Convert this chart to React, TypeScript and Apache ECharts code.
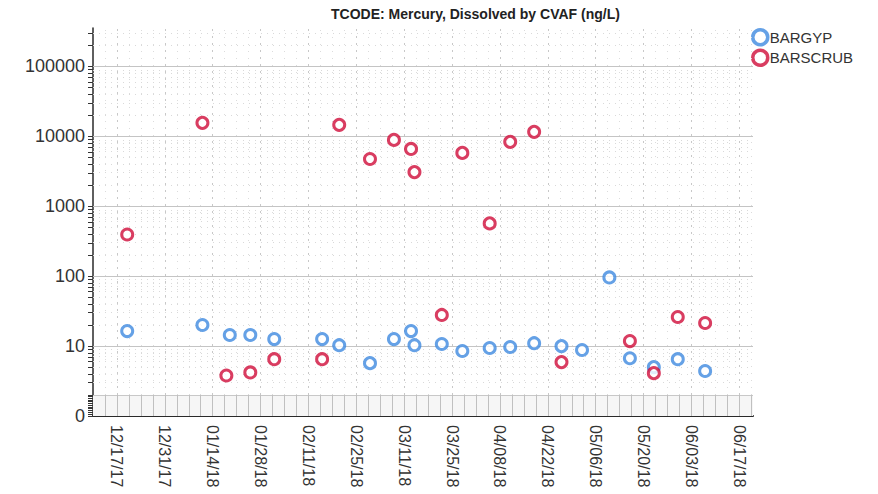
import React, { useEffect, useRef } from "react";
import * as echarts from "echarts";

// ---- data ----
const tickDates = [
  "2017-12-17", "2017-12-31", "2018-01-14", "2018-01-28", "2018-02-11", "2018-02-25", "2018-03-11",
  "2018-03-25", "2018-04-08", "2018-04-22", "2018-05-06", "2018-05-20", "2018-06-03", "2018-06-17",
];
const yTickPositions = [0, 1, 2, 3, 4, 5];
const yTickLabels = ["0", "10", "100", "1000", "10000", "100000"];

const gypDates = [
  "2017-12-20", "2018-01-11", "2018-01-19", "2018-01-25", "2018-02-01", "2018-02-15", "2018-02-20",
  "2018-03-01", "2018-03-08", "2018-03-13", "2018-03-14", "2018-03-22", "2018-03-28", "2018-04-05",
  "2018-04-11", "2018-04-18", "2018-04-26", "2018-05-02", "2018-05-10", "2018-05-16", "2018-05-23",
  "2018-05-30", "2018-06-07",
];
const gypValues = [
  16.4, 20.0, 14.4, 14.4, 12.6, 12.6, 10.3,
  5.7, 12.6, 16.4, 10.3, 10.7, 8.5, 9.4,
  9.7, 11.0, 10.0, 8.8, 96, 6.7, 5.0,
  6.5, 4.4,
];

const scrubDates = [
  "2017-12-20", "2018-01-11", "2018-01-18", "2018-01-25", "2018-02-01", "2018-02-15", "2018-02-20",
  "2018-03-01", "2018-03-08", "2018-03-13", "2018-03-14", "2018-03-22", "2018-03-28", "2018-04-05",
  "2018-04-11", "2018-04-18", "2018-04-26", "2018-05-16", "2018-05-23", "2018-05-30", "2018-06-07",
];
const scrubValues = [
  395, 15600, 3.8, 4.2, 6.5, 6.5, 14600,
  4740, 8900, 6610, 3080, 27.9, 5800, 569,
  8340, 11600, 5.9, 11.8, 4.1, 26.1, 21.4,
];

const ts = (s: string) => {
  const [y, m, d] = s.split("-").map(Number);
  return new Date(y, m - 1, d).getTime();
};
const DAY = 86400000;
const pad = (n: number) => (n < 10 ? "0" + n : "" + n);

export default function App() {
  const ref = useRef<HTMLDivElement>(null);
  useEffect(() => {
    if (!ref.current) return;
    const chart = echarts.init(ref.current, null, { renderer: "svg" });

    const xMin = ts("2017-12-10");
    const xMax = ts("2018-06-21");
    const yMax = 5.55;
    const breakTop = Math.log10(2);

    const yTicks: number[] = [];
    for (let n = 0; n <= 5; n++) {
      for (let k = 1; k <= 9; k++) {
        const t = n + Math.log10(k);
        if (t <= yMax && (t >= breakTop - 0.001 || t === 0)) yTicks.push(t);
      }
    }
    for (let t = 0.03; t < breakTop - 0.01; t += 0.025) yTicks.push(t);

    const gridLines: any[] = [];
    for (let n = 1; n <= 5; n++) {
      gridLines.push({ yAxis: n, lineStyle: { color: "#c4c4c4", width: 1, type: "solid" } });
    }
    for (let n = 0; n <= 5; n++) {
      for (let k = 2; k <= 9; k++) {
        const t = n + Math.log10(k);
        if (t > yMax || t < breakTop + 0.001) continue;
        gridLines.push({ yAxis: t, lineStyle: { color: "#d9d9d9", width: 1, type: [1, 5] } });
      }
    }
    gridLines.push({ yAxis: breakTop, lineStyle: { color: "#c8c8c8", width: 1, type: "solid" } });
    const tick0 = ts(tickDates[0]);
    for (let x = tick0 - 14 * DAY; x <= xMax; x += 3.5 * DAY) {
      if (x <= xMin) continue;
      const major = Math.abs(((x - tick0) / DAY) % 14) < 0.01;
      gridLines.push({
        xAxis: x,
        lineStyle: major
          ? { color: "#c8c8c8", width: 1, type: [2, 5] }
          : { color: "#dcdcdc", width: 1, type: [1, 6] },
      });
      gridLines.push([
        { coord: [x, 0], lineStyle: { color: "#c0c0c0", width: 1, type: "solid" } },
        { coord: [x, breakTop] },
      ]);
    }

    const pointStyle = (c: string) => ({
      color: "#ffffff",
      borderColor: c,
      borderWidth: 3,
    });

    chart.setOption({
      animation: false,
      backgroundColor: "#ffffff",
      title: {
        text: "TCODE: Mercury, Dissolved by CVAF (ng/L)",
        left: 326,
        top: 2,
        textStyle: { fontFamily: "Liberation Sans, Arial", fontSize: 14, fontWeight: "bold", color: "#222" },
      },
      legend: {
        data: ["BARGYP", "BARSCRUB"],
        orient: "vertical",
        left: 751,
        top: 28,
        itemGap: 2,
        itemWidth: 15,
        itemHeight: 15,
        padding: 0,
        icon: "circle",
        itemStyle: { borderWidth: 3.5 },
        textStyle: {
          fontFamily: "Liberation Sans, Arial",
          fontSize: 15,
          lineHeight: 16,
          color: "#333",
          padding: [0, 0, 0, -3],
        },
      },
      grid: { left: 93, right: 125, top: 28, bottom: 78, containLabel: false },
      xAxis: {
        type: "value",
        min: xMin,
        max: xMax,
        splitLine: { show: false },
        axisTick: { show: false },
        axisLine: { lineStyle: { color: "#2a2a2a", width: 2 } },
        axisLabel: {
          customValues: tickDates.map(ts),
          rotate: -90,
          margin: 9,
          fontFamily: "Liberation Sans, Arial",
          fontSize: 16,
          color: "#333",
          formatter: (v: number) => {
            const d = new Date(v);
            return pad(d.getMonth() + 1) + "/" + pad(d.getDate()) + "/" + pad(d.getFullYear() % 100);
          },
        },
      },
      yAxis: {
        type: "value",
        min: 0,
        max: yMax,
        splitLine: { show: false },
        axisLine: { show: true, lineStyle: { color: "#2a2a2a", width: 1.5 } },
        axisTick: { show: true, customValues: yTicks, length: 5, lineStyle: { color: "#333", width: 1 } },
        axisLabel: {
          customValues: yTickPositions,
          margin: 8,
          fontFamily: "Liberation Sans, Arial",
          fontSize: 18,
          color: "#333",
          formatter: (v: number) => {
            const i = yTickPositions.findIndex((p) => Math.abs(p - v) < 1e-6);
            return i >= 0 ? yTickLabels[i] : "";
          },
        },
      },
      series: [
        {
          name: "grid",
          type: "scatter",
          data: [],
          z: 1,
          silent: true,
          markArea: {
            silent: true,
            itemStyle: { color: "#f6f6f6" },
            data: [[{ yAxis: 0 }, { yAxis: breakTop }]],
          },
          markLine: {
            silent: true,
            symbol: ["none", "none"],
            label: { show: false },
            emphasis: { disabled: true },
            data: gridLines,
          },
        },
        {
          name: "BARGYP",
          type: "scatter",
          z: 5,
          symbol: "circle",
          symbolSize: 11,
          itemStyle: pointStyle("#3f8ae0"),
          data: gypDates.map((d, i) => [ts(d), Math.log10(gypValues[i])]),
        },
        {
          name: "BARSCRUB",
          type: "scatter",
          z: 5,
          symbol: "circle",
          symbolSize: 11,
          itemStyle: pointStyle("#cf0c3a"),
          data: scrubDates.map((d, i) => [ts(d), Math.log10(scrubValues[i])]),
        },
      ],
    });
    return () => chart.dispose();
  }, []);
  return <div ref={ref} style={{ width: 878, height: 494, position: "absolute", left: 0, top: 0 }} />;
}
